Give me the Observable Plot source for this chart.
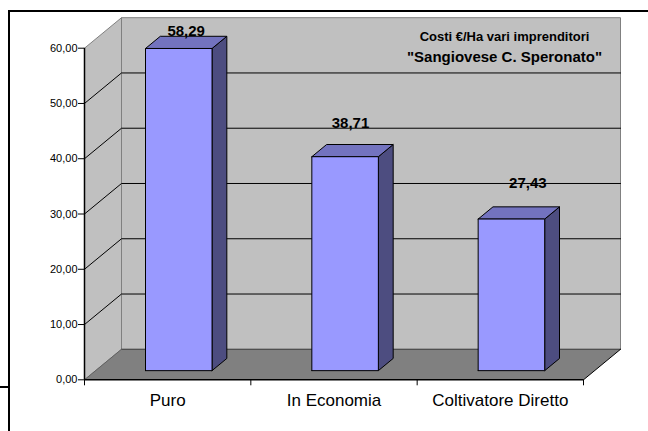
<!DOCTYPE html>
<html>
<head>
<meta charset="utf-8">
<script src="https://cdn.jsdelivr.net/npm/d3@7"></script>
<script src="https://cdn.jsdelivr.net/npm/@observablehq/plot@0.6"></script>
<style>
  html, body { margin: 0; padding: 0; background: #fff; }
  #wrap { position: relative; width: 648px; height: 431px; overflow: hidden; background: #fff; }
  #wrap svg { position: absolute; left: 0; top: 0; overflow: visible; }
  .bline { position: absolute; background: #000; }
</style>
</head>
<body>
<div id="wrap">
  <div class="bline" style="left:9px; top:10px; width:639px; height:2px;"></div>
  <div class="bline" style="left:8px; top:10px; width:2px; height:421px;"></div>
  <div class="bline" style="left:0px; top:386px; width:9px; height:2px;"></div>
</div>
<script>
// ---- data ----
const categories = ["Puro", "In Economia", "Coltivatore Diretto"];
const values = [58.29, 38.71, 27.43];
const valueLabels = ["58,29", "38,71", "27,43"];
const yTicks = [0, 10, 20, 30, 40, 50, 60];
const titleLines = ["Costi €/Ha vari imprenditori", "\"Sangiovese C. Speronato\""];

// ---- 3D projection (category units, value units) ----
const DX = 0.2225;   // horizontal shift for full depth, in category units
const DY = 5.52;     // vertical shift for full depth, in value units
const n = categories.length;
const yMax = yTicks[yTicks.length - 1];

function poly(id, pts, close = true) {
  const out = pts.map(([c, v, d]) => ({id, x: c + d * DX, y: v + d * DY}));
  if (close) out.push({...out[0]});
  return out;
}

const floor = poly("floor", [[0,0,0],[n,0,0],[n,0,1],[0,0,1]]);
const backWall = poly("back", [[0,0,1],[n,0,1],[n,yMax,1],[0,yMax,1]]);
const leftWall = poly("left", [[0,0,0],[0,0,1],[0,yMax,1],[0,yMax,0]]);
const grid = yTicks.filter(t => t > 0 && t < yMax)
  .flatMap(t => poly("g" + t, [[0,t,0],[0,t,1],[n,t,1]], false));
const floorBack = poly("fb", [[0,0,1],[n,0,1]], false);
const floorLeft = poly("fl", [[0,0,0],[0,0,1]], false);
const floorRight = poly("fr", [[n,0,0],[n,0,1]], false);

const B0 = 0.3, B1 = 0.7; // bar extent inside each category & depth
const fronts = [], sides = [], tops = [];
values.forEach((v, i) => {
  const c0 = i + B0, c1 = i + B1;
  fronts.push(...poly("f" + i, [[c0,0,B0],[c1,0,B0],[c1,v,B0],[c0,v,B0]]));
  sides.push(...poly("s" + i, [[c1,0,B0],[c1,0,B1],[c1,v,B1],[c1,v,B0]]));
  tops.push(...poly("t" + i, [[c0,v,B0],[c1,v,B0],[c1,v,B1],[c0,v,B1]]));
});

const labelData = values.map((v, i) => ({x: i + 0.5 + 0.5 * DX, y: v + 0.5 * DY, label: valueLabels[i]}));
const labelOffsets = [[0, -11], [-2, -27], [9, -30]];
const catData = categories.map((c, i) => ({x: i + 0.5, y: 0, label: c}));

const fmt = d => d.toFixed(2).replace(".", ",");
const font = "'Liberation Sans', Arial, sans-serif";

const chart = Plot.plot({
  width: 648,
  height: 431,
  marginLeft: 84,
  marginRight: 65,
  marginTop: 47.7,
  marginBottom: 51.7,
  x: {domain: [0, n]},
  y: {domain: [0, yMax]},
  style: {fontFamily: font, background: "transparent", color: "#000"},
  marks: [
    Plot.line(floor, {x: "x", y: "y", z: "id", fill: "#808080", stroke: "none"}),
    Plot.line(backWall, {x: "x", y: "y", z: "id", fill: "#c0c0c0", stroke: "#808080", strokeWidth: 1}),
    Plot.line(leftWall, {x: "x", y: "y", z: "id", fill: "#c0c0c0", stroke: "#808080", strokeWidth: 1}),
    Plot.line(grid, {x: "x", y: "y", z: "id", stroke: "#000", strokeWidth: 1}),
    Plot.line(floorBack, {x: "x", y: "y", z: "id", stroke: "#404040", strokeWidth: 1}),
    Plot.line(floorLeft, {x: "x", y: "y", z: "id", stroke: "#606060", strokeWidth: 1}),
    Plot.line(floorRight, {x: "x", y: "y", z: "id", stroke: "#000", strokeWidth: 1}),
    Plot.line(sides, {x: "x", y: "y", z: "id", fill: "#4d4d80", stroke: "#000", strokeWidth: 1, strokeLinejoin: "miter"}),
    Plot.line(tops, {x: "x", y: "y", z: "id", fill: "#7373bf", stroke: "#000", strokeWidth: 1, strokeLinejoin: "miter"}),
    Plot.line(fronts, {x: "x", y: "y", z: "id", fill: "#9999ff", stroke: "#000", strokeWidth: 1, strokeLinejoin: "miter"}),
    Plot.ruleY([0], {stroke: "#000", strokeWidth: 1.5}),
    Plot.ruleX([0], {stroke: "#000", strokeWidth: 1.5}),
    Plot.axisY({ticks: yTicks, tickFormat: fmt, tickSize: 6, tickPadding: 1, fontSize: 11, label: null, stroke: "#000"}),
    Plot.axisX({ticks: d3.range(n + 1), tickSize: 6, tickFormat: () => "", label: null, stroke: "#000"}),
    Plot.text(catData, {x: "x", y: "y", text: "label", dy: 21, fontSize: 17, fill: "#000"}),
    ...labelData.map((d, i) => Plot.text([d], {
      x: "x", y: "y", text: "label", dx: labelOffsets[i][0], dy: labelOffsets[i][1],
      fontSize: 15, fontWeight: "bold", fill: "#000"
    })),
    Plot.text([titleLines[0]], {frameAnchor: "top-right", text: d => d, dx: -79, dy: -11, fontSize: 13, fontWeight: "bold", textAnchor: "middle", lineAnchor: "middle", fill: "#000"}),
    Plot.text([titleLines[1]], {frameAnchor: "top-right", text: d => d, dx: -79, dy: 8.5, fontSize: 15, fontWeight: "bold", textAnchor: "middle", lineAnchor: "middle", fill: "#000"})
  ]
});
document.getElementById("wrap").appendChild(chart);
</script>
</body>
</html>
